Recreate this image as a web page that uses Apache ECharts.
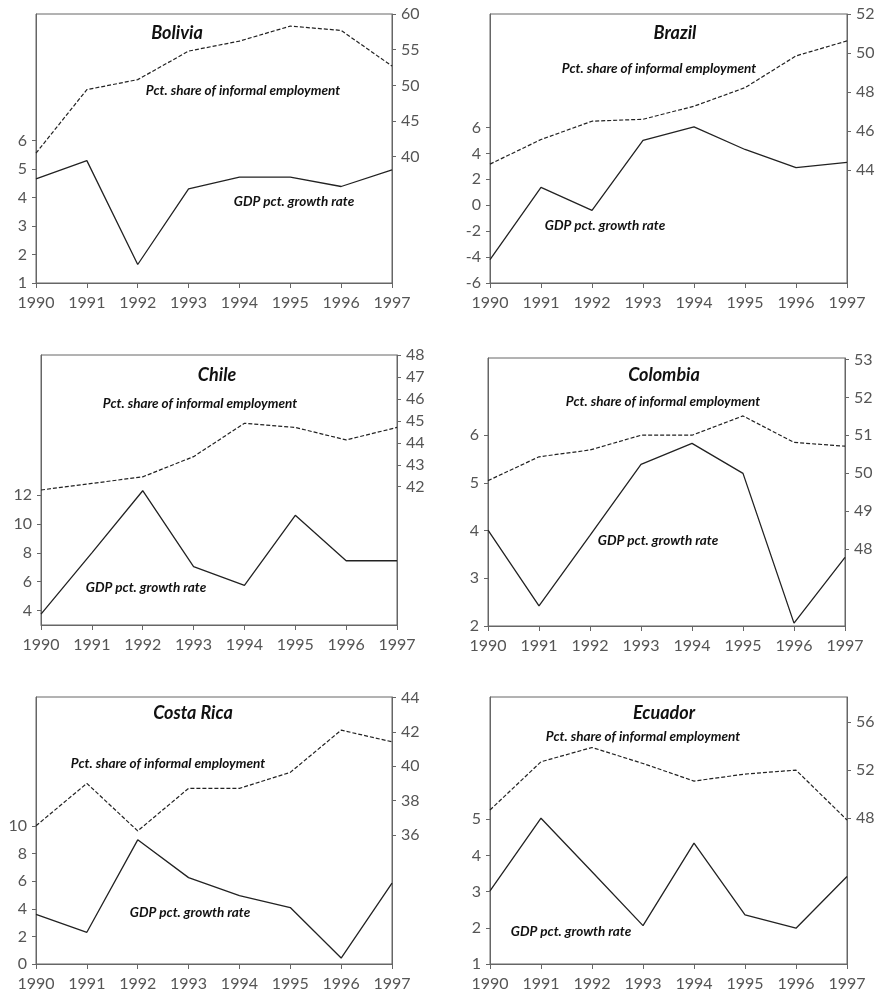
<!DOCTYPE html>
<html>
<head>
<meta charset="utf-8">
<script src="https://cdn.jsdelivr.net/npm/echarts@6/dist/echarts.min.js"></script>
<style>
  html, body { margin: 0; padding: 0; background: #fff; }
  #chart { width: 878px; height: 996px; }
</style>
</head>
<body>
<div id="chart"></div>
<script>
// Years on the horizontal axis of every panel
const years = ['1990', '1991', '1992', '1993', '1994', '1995', '1996', '1997'];

// GDP growth rate (%, left axis, solid line)
const boliviaGdp   = [4.66, 5.3, 1.65, 4.31, 4.72, 4.72, 4.39, 4.97];
const brazilGdp    = [-4.2, 1.37, -0.4, 5.0, 6.05, 4.3, 2.9, 3.3];
const chileGdp     = [3.75, 8.0, 12.3, 7.05, 5.75, 10.6, 7.45, 7.45];
const colombiaGdp  = [4.01, 2.42, 3.9, 5.39, 5.83, 5.2, 2.06, 3.44];
const costaRicaGdp = [3.6, 2.3, 9.0, 6.26, 4.96, 4.09, 0.43, 5.86];
const ecuadorGdp   = [3.02, 5.03, 3.55, 2.06, 4.34, 2.36, 1.99, 3.42];

// Share of informal employment (%, right axis, dashed line)
const boliviaInf   = [40.5, 49.4, 50.8, 54.8, 56.2, 58.3, 57.7, 52.7];
const brazilInf    = [44.3, 45.56, 46.5, 46.6, 47.27, 48.22, 49.85, 50.62];
const chileInf     = [41.85, 42.15, 42.45, 43.37, 44.89, 44.7, 44.13, 44.7];
const colombiaInf  = [49.8, 50.43, 50.61, 51.0, 51.0, 51.51, 50.81, 50.71];
const costaRicaInf = [36.53, 39.0, 36.23, 38.71, 38.71, 39.64, 42.1, 41.42];
const ecuadorInf   = [48.69, 52.69, 53.88, 52.55, 51.09, 51.67, 52.0, 47.86];

// Tick labels on the left (GDP) and right (informal share) axes
const boliviaLeftTicks    = [1, 2, 3, 4, 5, 6];
const boliviaRightTicks   = [40, 45, 50, 55, 60];
const brazilLeftTicks     = [-6, -4, -2, 0, 2, 4, 6];
const brazilRightTicks    = [44, 46, 48, 50, 52];
const chileLeftTicks      = [4, 6, 8, 10, 12];
const chileRightTicks     = [42, 43, 44, 45, 46, 47, 48];
const colombiaLeftTicks   = [2, 3, 4, 5, 6];
const colombiaRightTicks  = [48, 49, 50, 51, 52, 53];
const costaRicaLeftTicks  = [0, 2, 4, 6, 8, 10];
const costaRicaRightTicks = [36, 38, 40, 42, 44];
const ecuadorLeftTicks    = [1, 2, 3, 4, 5];
const ecuadorRightTicks   = [48, 52, 56];

const panels = [
  { name: 'Bolivia', gdp: boliviaGdp, inf: boliviaInf, lt: boliviaLeftTicks, rt: boliviaRightTicks,
    grid: [36, 14, 356, 269], left: [1, 10.45], right: [22.3, 60],
    titlePos: [177, 33], infPos: [243, 91], gdpPos: [294, 202] },
  { name: 'Brazil', gdp: brazilGdp, inf: brazilInf, lt: brazilLeftTicks, rt: brazilRightTicks,
    grid: [490, 14, 357, 269], left: [-6, 14.75], right: [38.2, 52],
    titlePos: [675, 33], infPos: [659, 69], gdpPos: [605, 226] },
  { name: 'Chile', gdp: chileGdp, inf: chileInf, lt: chileLeftTicks, rt: chileRightTicks,
    grid: [41, 355, 356, 270], left: [3, 21.7], right: [35.7, 48],
    titlePos: [217, 375], infPos: [200, 404], gdpPos: [146, 588] },
  { name: 'Colombia', gdp: colombiaGdp, inf: colombiaInf, lt: colombiaLeftTicks, rt: colombiaRightTicks,
    grid: [488, 358, 357, 268], left: [2, 7.62], right: [45.96, 53.04],
    titlePos: [664, 375], infPos: [663, 402], gdpPos: [658, 541] },
  { name: 'Costa Rica', gdp: costaRicaGdp, inf: costaRicaInf, lt: costaRicaLeftTicks, rt: costaRicaRightTicks,
    grid: [36, 697, 356, 267], left: [0, 19.35], right: [28.48, 44.03],
    titlePos: [193, 713], infPos: [168, 764], gdpPos: [190, 913] },
  { name: 'Ecuador', gdp: ecuadorGdp, inf: ecuadorInf, lt: ecuadorLeftTicks, rt: ecuadorRightTicks,
    grid: [490, 697, 357, 267], left: [1, 8.38], right: [35.9, 58.07],
    titlePos: [664, 713], infPos: [643, 737], gdpPos: [571, 932] }
];

const axisColor = '#666';
const labelFont = { fontFamily: 'Lato, "Open Sans", sans-serif', fontSize: 16, color: '#555' };
const noteFont = 'italic bold 13.5px Lato, "Open Sans", sans-serif';
const titleFont = 'italic bold 18px Lato, "Open Sans", sans-serif';

const grid = [], xAxis = [], yAxis = [], series = [], graphic = [];

panels.forEach((p, i) => {
  grid.push({
    left: p.grid[0], top: p.grid[1], width: p.grid[2], height: p.grid[3],
    show: true, borderColor: axisColor, borderWidth: 1, backgroundColor: 'transparent'
  });
  xAxis.push({
    type: 'category', gridIndex: i, data: years, boundaryGap: false,
    axisLine: { onZero: false, lineStyle: { color: axisColor, width: 1 } },
    axisTick: { show: true, length: 5, inside: false, lineStyle: { color: axisColor } },
    axisLabel: Object.assign({ margin: 12, interval: 0 }, labelFont),
    splitLine: { show: false }
  });
  yAxis.push({
    type: 'value', gridIndex: i, position: 'left', min: p.left[0], max: p.left[1],
    axisLine: { show: true, onZero: false, lineStyle: { color: axisColor, width: 1 } },
    axisTick: { show: true, length: 4, customValues: p.lt, lineStyle: { color: axisColor } },
    axisLabel: Object.assign({ margin: 9, customValues: p.lt }, labelFont),
    splitLine: { show: false }
  });
  yAxis.push({
    type: 'value', gridIndex: i, position: 'right', min: p.right[0], max: p.right[1],
    axisLine: { show: true, onZero: false, lineStyle: { color: axisColor, width: 1 } },
    axisTick: { show: true, length: 4, customValues: p.rt, lineStyle: { color: axisColor } },
    axisLabel: Object.assign({ margin: 9, customValues: p.rt }, labelFont),
    splitLine: { show: false }
  });
  series.push({
    name: p.name + ' GDP', type: 'line', xAxisIndex: i, yAxisIndex: 2 * i,
    data: p.gdp, symbol: 'none', silent: true,
    lineStyle: { color: '#222', width: 1.3, type: 'solid' }
  });
  series.push({
    name: p.name + ' informal', type: 'line', xAxisIndex: i, yAxisIndex: 2 * i + 1,
    data: p.inf, symbol: 'none', silent: true,
    lineStyle: { color: '#222', width: 1.2, type: [4, 2] }
  });
  graphic.push({
    type: 'text', x: p.titlePos[0], y: p.titlePos[1],
    style: { text: p.name, font: titleFont, fill: '#111', textAlign: 'center', textVerticalAlign: 'middle' }
  });
  graphic.push({
    type: 'text', x: p.infPos[0], y: p.infPos[1],
    style: { text: 'Pct. share of informal employment', font: noteFont, fill: '#111', textAlign: 'center', textVerticalAlign: 'middle' }
  });
  graphic.push({
    type: 'text', x: p.gdpPos[0], y: p.gdpPos[1],
    style: { text: 'GDP pct. growth rate', font: noteFont, fill: '#111', textAlign: 'center', textVerticalAlign: 'middle' }
  });
});

const chart = echarts.init(document.getElementById('chart'), null, { renderer: 'canvas' });
chart.setOption({
  animation: false,
  backgroundColor: '#fff',
  grid, xAxis, yAxis, series, graphic
});
</script>
</body>
</html>
